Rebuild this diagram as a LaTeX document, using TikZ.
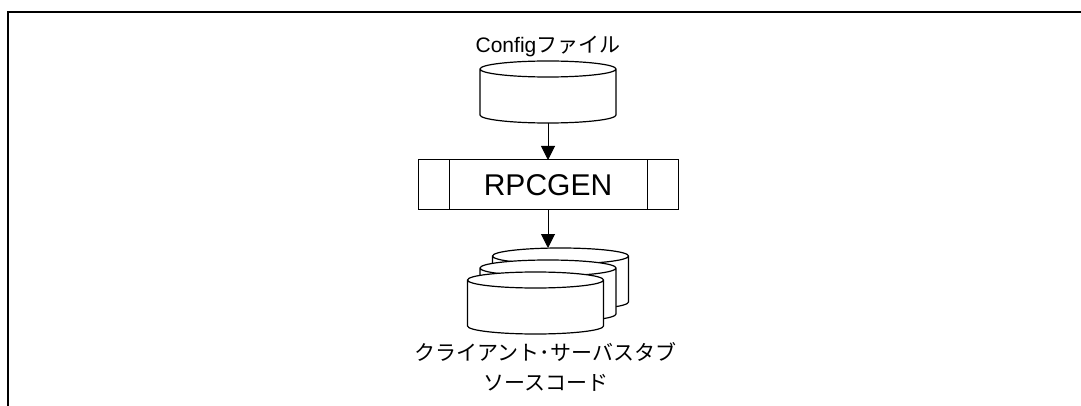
\documentclass[tikz,border=0pt]{standalone}
\usepackage{fontspec}
\setmainfont{Liberation Sans}
\newfontfamily\jp{Noto Sans CJK JP}
\usetikzlibrary{shapes.geometric,arrows.meta,positioning}

% outline of a disk-file drum round a named box
\newcommand{\drawdrum}[1]{%
  \filldraw[drumline] ([yshift=-8pt]#1.north west) -- ([yshift=8pt]#1.south west)
    arc[start angle=180, end angle=360, x radius=68pt, y radius=8pt]
    -- ([yshift=-8pt]#1.north east)
    arc[start angle=0, end angle=180, x radius=68pt, y radius=8pt] -- cycle
    ([yshift=-8pt]#1.north west) arc[start angle=180, end angle=360, x radius=68pt, y radius=8pt];}

\begin{document}
\begin{tikzpicture}[x=1pt, y=-1pt,
  drum/.style = {rectangle, minimum width=136pt, minimum height=62pt, inner sep=0pt, outer sep=0pt},
  drumline/.style = {draw, fill=white, line width=1.2pt},
  procbox/.style = {rectangle, draw, line width=1pt, minimum width=260pt, minimum height=50pt, outer sep=0pt, font=\fontsize{30}{36}\selectfont,
    path picture={\draw[line width=1pt] ([xshift=31pt]path picture bounding box.north west) -- ([xshift=31pt]path picture bounding box.south west)
      ([xshift=-31pt]path picture bounding box.north east) -- ([xshift=-31pt]path picture bounding box.south east);}},
  caption/.style = {font=\fontsize{21}{30}\selectfont, align=center, inner sep=0pt},
  line/.style = {draw, line width=1pt, -{Triangle[width=14pt,length=14pt]}},
  frame/.style = {line width=2pt}]

  \useasboundingbox (0,0) rectangle (1081,406);
  \draw[frame] (8,406) |- (1081,12);

  \node[drum] (cfg) at (548,92) {};
  \drawdrum{cfg}
  \node[caption, above=4pt of cfg] (cfglabel) {Config{\jp ファイル}};
  \node[procbox, below=37pt of cfg] (gen) {RPCGEN};

  % stacked stubs
  \node[drum] (back) at (560.5,279) {};
  \node[drum] (middle) at ([shift={(-12.5,12)}]back) {};
  \node[drum] (front) at ([shift={(-12.5,12)}]middle) {};
  \drawdrum{back}
  \drawdrum{middle}
  \drawdrum{front}
  \node[caption, below=8pt of front, xshift=10pt] (stublabel) {\jp クライアント･サーバスタブ\\\jp ソースコード};

  \path[line] (cfg) -- (gen);
  \path[line] (gen) -- (gen.south |- back.north);
\end{tikzpicture}
\end{document}
